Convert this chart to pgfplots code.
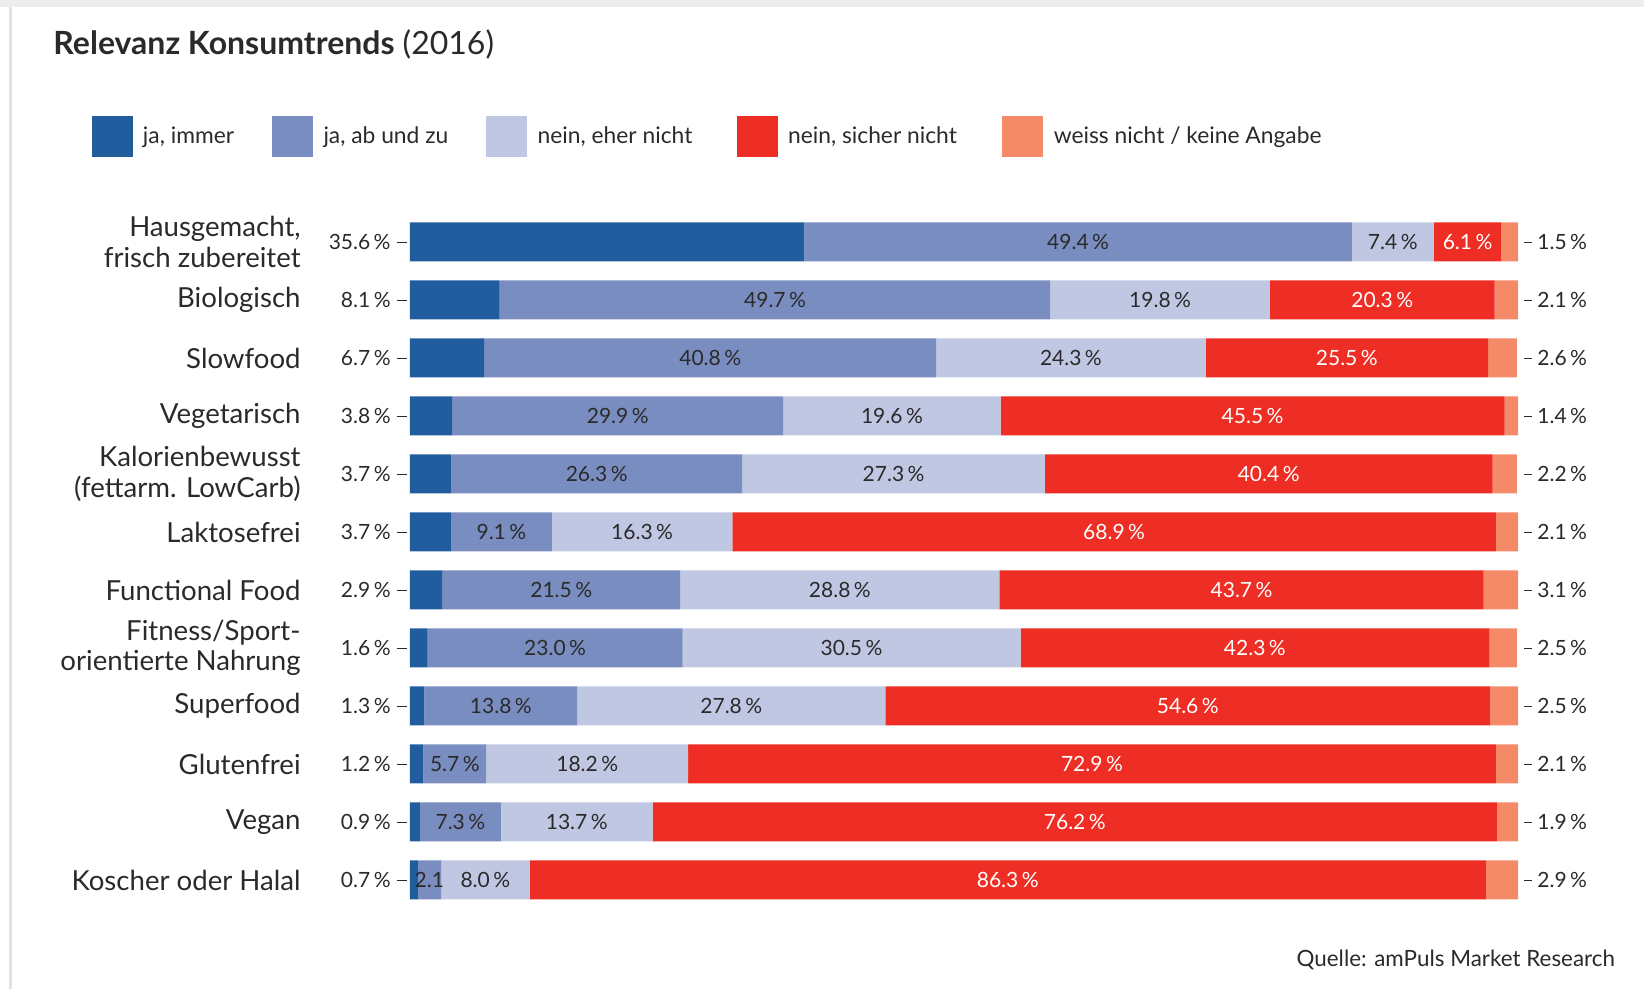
\documentclass[border=0pt]{standalone}
\usepackage{fontspec}
\setmainfont{Lato}
\usepackage{pgfplots}
\usepackage{pgfplotstable}
\pgfplotsset{compat=1.18}
\definecolor{c1}{HTML}{215D9E}
\definecolor{c2}{HTML}{7A8DC0}
\definecolor{c3}{HTML}{C0C7E2}
\definecolor{c4}{HTML}{EE2E24}
\definecolor{c5}{HTML}{F58A68}
\definecolor{textdark}{HTML}{2A2A2A}
\pgfkeys{/pgf/number format/.cd, assume math mode=true, fixed, fixed zerofill, precision=1}
\pgfplotsset{sqlegend/.style={legend image code/.code={\fill[##1] (0pt,-10.25pt) rectangle (20.5pt,10.25pt);}}}
\newcommand{\lab}{\fontsize{10.5}{12}\selectfont}
\pgfplotstableread{
y a b c d e
11 35.6 49.4 7.4 6.1 1.5
10 8.1 49.7 19.8 20.3 2.1
9 6.7 40.8 24.3 25.5 2.6
8 3.8 29.9 19.6 45.5 1.4
7 3.7 26.3 27.3 40.4 2.2
6 3.7 9.1 16.3 68.9 2.1
5 2.9 21.5 28.8 43.7 3.1
4 1.6 23.0 30.5 42.3 2.5
3 1.3 13.8 27.8 54.6 2.5
2 1.2 5.7 18.2 72.9 2.1
1 0.9 7.3 13.7 76.2 1.9
0 0.7 2.1 8.0 86.3 2.9
}\data
\begin{document}
\begin{tikzpicture}
\useasboundingbox (-205pt,-40pt) rectangle (617pt,454.5pt);
\fill[gray!14] (-205pt,451pt) rectangle (617pt,454.5pt);
\fill[gray!22] (-200.5pt,-40pt) rectangle (-199pt,451pt);
\begin{axis}[
  scale only axis, width=554pt, height=348pt,
  xmin=0, xmax=100, ymin=-0.5, ymax=11.5,
  xbar stacked, bar width=19.5pt,
  axis line style={draw=none}, xtick=\empty,
  ytick={0,...,11},
  yticklabels={Koscher oder Halal, Vegan, Glutenfrei, Superfood, {Fitness/Sport-\\orientierte Nahrung}, Functional Food, Laktosefrei, {Kalorienbewusst\\(fettarm. LowCarb)}, Vegetarisch, Slowfood, Biologisch, {Hausgemacht,\\frisch zubereitet}},
  y tick label style={align=right, anchor=east, inner sep=0pt, xshift=-54.5pt, font=\fontsize{13.8}{15.2}\selectfont, text=textdark},
  major tick length=0pt, tick style={draw=none},
  legend columns=5,
  legend style={draw=none, fill=none, inner sep=0pt, at={(rel axis cs:0,1)}, anchor=west, xshift=-159.4pt, yshift=38pt,
    font=\fontsize{11.4}{13.5}\selectfont, text=textdark, nodes={inner sep=0pt},
    /tikz/every odd column/.append style={column sep=5.2pt},
    /tikz/every even column/.append style={column sep=19pt}},
]
\addplot[fill=c1, draw=none, sqlegend] table[x=a, y=y] {\data};
\addlegendentry{ja, immer}
\addplot[fill=c2, draw=none, sqlegend] table[x=b, y=y] {\data};
\addlegendentry{ja, ab und zu}
\addplot[fill=c3, draw=none, sqlegend] table[x=c, y=y] {\data};
\addlegendentry{nein, eher nicht\kern3.1pt\null}
\addplot[fill=c4, draw=none, sqlegend] table[x=d, y=y] {\data};
\addlegendentry{nein, sicher nicht\kern3.7pt\null}
\addplot[fill=c5, draw=none, sqlegend] table[x=e, y=y] {\data};
\addlegendentry{weiss nicht / keine Angabe}
\end{axis}
\begin{axis}[
  scale only axis, width=554pt, height=348pt,
  xmin=0, xmax=100, ymin=-0.5, ymax=11.5,
  hide axis, clip=false,
  every axis plot/.append style={draw=none, mark=none, point meta=explicit},
]
% left labels
\addplot[nodes near coords={\pgfmathprintnumber{\pgfplotspointmeta}\,\%\hspace{3pt}\rule[0.32em]{5pt}{0.6pt}},
  every node near coord/.append style={anchor=east, xshift=-1.5pt, font=\lab, text=textdark, inner sep=0pt}]
  table[x expr=0, y=y, meta=a] {\data};
% b labels
\addplot[skip coords between index={11}{12},
  nodes near coords={\pgfmathprintnumber{\pgfplotspointmeta}\,\%},
  every node near coord/.append style={anchor=center, font=\lab, text=textdark, inner sep=0pt}]
  table[x expr=\thisrow{a}+0.5*\thisrow{b}, y=y, meta=b] {\data};
\addplot[skip coords between index={0}{11},
  nodes near coords={\pgfmathprintnumber{\pgfplotspointmeta}},
  every node near coord/.append style={anchor=center, font=\lab, text=textdark, inner sep=0pt}]
  table[x expr=\thisrow{a}+0.5*\thisrow{b}, y=y, meta=b] {\data};
% c labels
\addplot[nodes near coords={\pgfmathprintnumber{\pgfplotspointmeta}\,\%},
  every node near coord/.append style={anchor=center, font=\lab, text=textdark, inner sep=0pt}]
  table[x expr=\thisrow{a}+\thisrow{b}+0.5*\thisrow{c}, y=y, meta=c] {\data};
% d labels
\addplot[nodes near coords={\pgfmathprintnumber{\pgfplotspointmeta}\,\%},
  every node near coord/.append style={anchor=center, font=\lab, text=white, inner sep=0pt}]
  table[x expr=\thisrow{a}+\thisrow{b}+\thisrow{c}+0.5*\thisrow{d}, y=y, meta=d] {\data};
% right labels
\addplot[nodes near coords={\rule[0.32em]{4.2pt}{0.6pt}\hspace{2.5pt}\pgfmathprintnumber{\pgfplotspointmeta}\,\%},
  every node near coord/.append style={anchor=west, xshift=2.8pt, font=\lab, text=textdark, inner sep=0pt}]
  table[x expr=100, y=y, meta=e] {\data};
\end{axis}
\node[anchor=base west, font=\fontsize{16}{18}\selectfont, text=textdark] at (-181.8pt,427.2pt) {\textbf{Relevanz Konsumtrends} (2016)};
\node[anchor=base east, font=\fontsize{11.2}{13}\selectfont, text=textdark] at (606pt,-28.9pt) {Quelle: amPuls Market Research};
\end{tikzpicture}
\end{document}
